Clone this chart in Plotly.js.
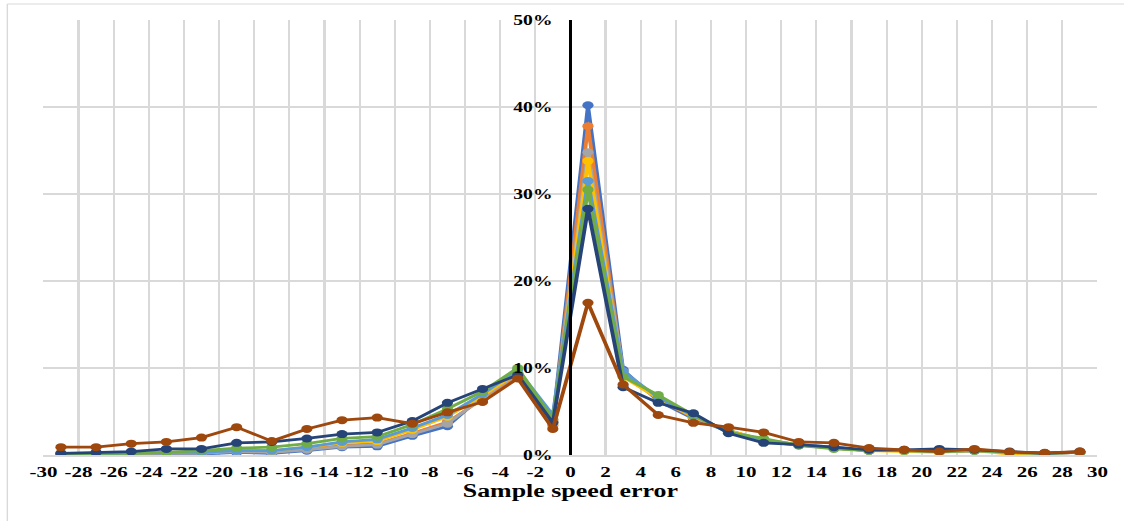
<!DOCTYPE html>
<html>
<head>
<meta charset="utf-8">
<script src="https://cdn.plot.ly/plotly-3.0.1.min.js"></script>
<style>
  html, body { margin: 0; padding: 0; background: #fff; overflow: hidden; }
  #wrap { width: 1124px; height: 521px; overflow: hidden; }
  /* the chart is laid out narrower and widened horizontally */
  #chart { width: 803px; height: 521px; transform: scaleX(1.39975); transform-origin: 0 0; }
</style>
</head>
<body>
<div id="wrap"><div id="chart"></div></div>
<script>
// Speed error bins (odd values from -29 to 29)
const speedError = [-29,-27,-25,-23,-21,-19,-17,-15,-13,-11,-9,-7,-5,-3,-1,1,3,5,7,9,11,13,15,17,19,21,23,25,27,29];

// Share of samples in each bin, percent
const series1 = [0.1,0.1,0.1,0.2,0.1,0.3,0.2,0.5,0.9,1.0,2.2,3.3,6.8,9.4,3.8,40.2,9.8,6.2,4.2,2.7,1.6,1.1,0.8,0.5,0.5,0.4,0.5,0.3,0.2,0.3];
const series2 = [0.2,0.2,0.2,0.3,0.3,0.5,0.4,0.7,1.1,1.3,2.5,3.8,6.4,9.0,3.4,37.8,9.2,6.4,4.3,2.8,1.7,1.2,0.8,0.5,0.5,0.4,0.5,0.3,0.2,0.3];
const series3 = [0.1,0.2,0.2,0.2,0.2,0.4,0.3,0.6,1.0,1.2,2.4,3.6,6.6,9.3,3.9,34.8,9.6,6.4,4.4,2.8,1.7,1.2,0.8,0.5,0.5,0.4,0.5,0.3,0.2,0.3];
const series4 = [0.2,0.2,0.2,0.3,0.4,0.6,0.5,0.9,1.4,1.6,2.9,4.4,6.8,9.5,3.6,33.8,9.0,6.5,4.4,2.8,1.7,1.2,0.8,0.5,0.4,0.3,0.5,0.1,0.2,0.3];
const series5 = [0.1,0.1,0.2,0.3,0.3,0.5,0.5,0.9,1.5,1.8,3.1,4.6,7.0,9.8,4.6,31.5,9.6,6.6,4.5,2.7,1.6,1.2,0.9,0.5,0.5,0.4,0.5,0.3,0.2,0.3];
const series6 = [0.1,0.2,0.2,0.3,0.5,0.8,0.9,1.3,1.9,2.1,3.5,5.3,7.3,10.0,4.1,30.5,9.0,6.9,4.6,2.6,1.9,1.1,0.7,0.5,0.5,0.4,0.5,0.3,0.2,0.3];
const series7 = [0.2,0.3,0.4,0.7,0.7,1.4,1.5,1.9,2.4,2.6,3.9,6.0,7.6,9.2,3.7,28.3,7.8,6.0,4.8,2.5,1.4,1.2,0.9,0.6,0.6,0.7,0.6,0.4,0.2,0.4];
const series8 = [0.9,0.9,1.3,1.5,2.0,3.2,1.6,3.0,4.0,4.3,3.6,4.9,6.1,8.8,3.0,17.5,8.1,4.6,3.7,3.2,2.6,1.5,1.4,0.8,0.6,0.4,0.7,0.35,0.25,0.4];

const allSeries = [series1, series2, series3, series4, series5, series6, series7, series8];
const colors = ['#4472C4','#ED7D31','#A5A5A5','#FFC000','#5B9BD5','#70AD47','#264478','#9E480E'];

// x tick positions and their labels (plain hyphen for negatives)
const xTicks = [-30,-28,-26,-24,-22,-20,-18,-16,-14,-12,-10,-8,-6,-4,-2,0,2,4,6,8,10,12,14,16,18,20,22,24,26,28,30];
const xTickLabels = ['-30','-28','-26','-24','-22','-20','-18','-16','-14','-12','-10','-8','-6','-4','-2','0','2','4','6','8','10','12','14','16','18','20','22','24','26','28','30'];

const traces = allSeries.map((ys, i) => ({
  type: 'scatter',
  mode: 'lines+markers',
  x: speedError,
  y: ys,
  line: { color: colors[i], width: 2.75 },
  marker: { color: colors[i], size: 8 },
  showlegend: false,
  hoverinfo: 'x+y'
}));

const serif = 'Liberation Serif, Times New Roman, serif';

const layout = {
  width: 803,
  height: 521,
  margin: { l: 31.4, r: 19.3, t: 20, b: 66 },
  paper_bgcolor: '#ffffff',
  plot_bgcolor: '#ffffff',
  showlegend: false,
  xaxis: {
    range: [-30, 30],
    tickmode: 'array',
    tickvals: xTicks,
    ticktext: xTickLabels,
    tickangle: 0,
    ticks: 'outside',
    ticklen: 3,
    tickcolor: 'rgba(0,0,0,0)',
    showgrid: true,
    gridcolor: '#d9d9d9',
    gridwidth: 1.5,
    zeroline: false,
    showline: true,
    linecolor: '#d9d9d9',
    linewidth: 1.5,
    tickfont: { family: serif, size: 15, color: '#000', weight: 'bold' },
    title: { text: '<b>Sample speed error</b>', font: { family: serif, size: 18.5, color: '#000' }, standoff: 4 }
  },
  yaxis: {
    range: [0, 50],
    dtick: 10,
    ticksuffix: '%',
    anchor: 'free',
    position: 0.5,
    ticks: '',
    ticklabelstandoff: 9,
    showgrid: true,
    gridcolor: '#d9d9d9',
    gridwidth: 1.5,
    zeroline: false,
    showline: true,
    linecolor: '#000000',
    linewidth: 2,
    tickfont: { family: serif, size: 14, color: '#000', weight: 'bold' }
  },
  shapes: [
    // chart-area frame
    { type: 'line', xref: 'paper', yref: 'paper', x0: -0.0342, x1: -0.0342, y0: -0.2, y1: 1.0368,
      line: { color: '#d9d9d9', width: 1 } },
    { type: 'line', xref: 'paper', yref: 'paper', x0: -0.0342, x1: 1.1, y0: 1.0368, y1: 1.0368,
      line: { color: '#d9d9d9', width: 1 } }
  ]
};

Plotly.newPlot('chart', traces, layout, { staticPlot: true, displayModeBar: false });
</script>
</body>
</html>
